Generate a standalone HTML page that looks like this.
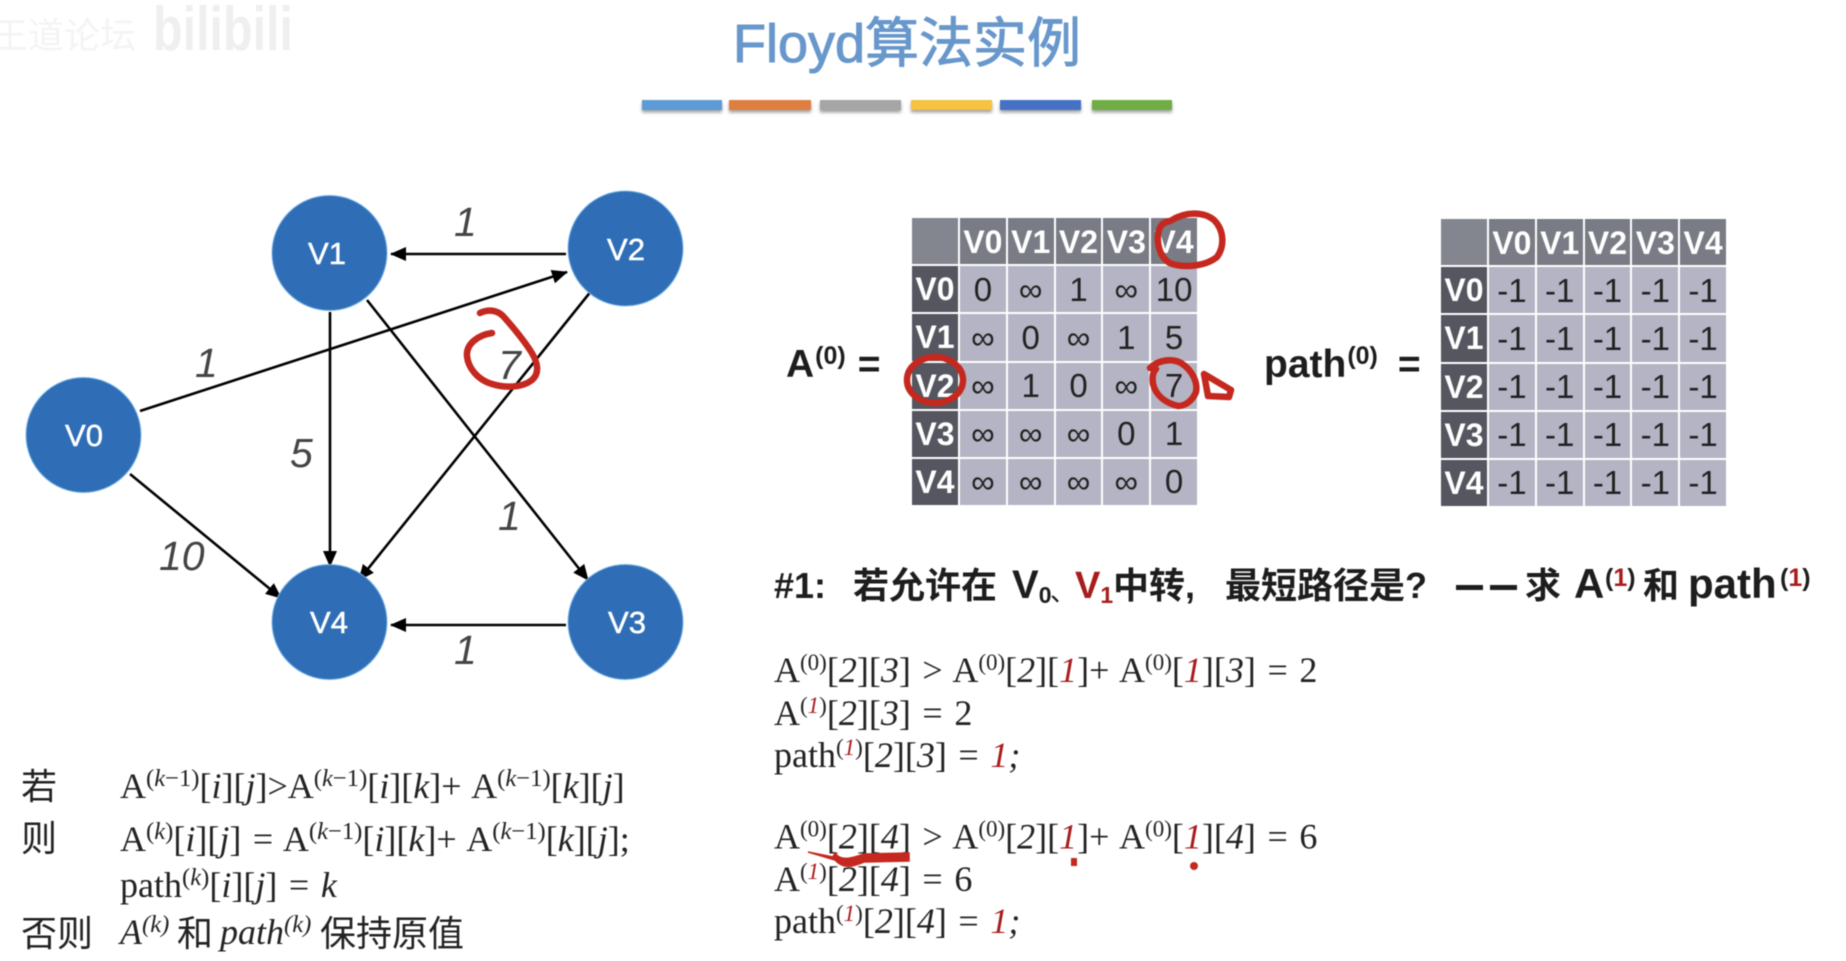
<!DOCTYPE html>
<html lang="zh">
<head>
<meta charset="utf-8">
<title>Floyd算法实例</title>
<style>
html,body{margin:0;padding:0;background:#fff;}
body{width:1846px;height:961px;position:relative;overflow:hidden;font-family:"Liberation Sans","Noto Sans CJK SC",sans-serif;}
.wrap{position:absolute;left:0;top:0;width:1846px;height:961px;filter:blur(.6px);}
.tb{position:absolute;display:grid;grid-template-columns:46px repeat(5,1fr);grid-template-rows:repeat(6,1fr);gap:2px;width:285px;height:287px;background:#fff;}
.tb div{display:flex;align-items:center;justify-content:center;background:#b4b4c4;color:#222;font-size:33px;line-height:1;}
.tb .c{background:#84868f;}
.tb .h{background:#797b85;color:#fff;font-weight:bold;font-size:32px;padding-top:1px;}
.tb .s{background:#55565f;color:#fff;font-weight:bold;font-size:32px;}
svg{position:absolute;left:0;top:0;}
</style>
</head>
<body>
<div class="wrap">
<div class="tb" style="left:912px;top:218px;">
<div class="c"></div><div class="h">V0</div><div class="h">V1</div><div class="h">V2</div><div class="h">V3</div><div class="h">V4</div>
<div class="s">V0</div><div>0</div><div>∞</div><div>1</div><div>∞</div><div>10</div>
<div class="s">V1</div><div>∞</div><div>0</div><div>∞</div><div>1</div><div>5</div>
<div class="s">V2</div><div>∞</div><div>1</div><div>0</div><div>∞</div><div>7</div>
<div class="s">V3</div><div>∞</div><div>∞</div><div>∞</div><div>0</div><div>1</div>
<div class="s">V4</div><div>∞</div><div>∞</div><div>∞</div><div>∞</div><div>0</div>
</div>
<div class="tb" style="left:1441px;top:219px;">
<div class="c"></div><div class="h">V0</div><div class="h">V1</div><div class="h">V2</div><div class="h">V3</div><div class="h">V4</div>
<div class="s">V0</div><div>-1</div><div>-1</div><div>-1</div><div>-1</div><div>-1</div>
<div class="s">V1</div><div>-1</div><div>-1</div><div>-1</div><div>-1</div><div>-1</div>
<div class="s">V2</div><div>-1</div><div>-1</div><div>-1</div><div>-1</div><div>-1</div>
<div class="s">V3</div><div>-1</div><div>-1</div><div>-1</div><div>-1</div><div>-1</div>
<div class="s">V4</div><div>-1</div><div>-1</div><div>-1</div><div>-1</div><div>-1</div>
</div>
<svg width="1846" height="961" viewBox="0 0 1846 961" xmlns="http://www.w3.org/2000/svg" xml:space="preserve">
<defs>
<marker id="ah" markerUnits="userSpaceOnUse" markerWidth="16" markerHeight="14" refX="15" refY="7" orient="auto"><path d="M0 0L16 7L0 14z" fill="#000"/></marker>
<filter id="sh" x="-5%" y="-50%" width="110%" height="250%"><feDropShadow dx="0" dy="2.5" stdDeviation="1.5" flood-color="#777" flood-opacity=".7"/></filter>
<style>
.ss{font-family:"Liberation Sans","Noto Sans CJK SC",sans-serif;}
.tm{font-family:"Liberation Serif","Noto Sans CJK SC",serif;font-size:36px;fill:#222;word-spacing:2.6px;}
.sp{font-size:23px;}
.rl .sp{font-size:24.6px;}
.i{font-style:italic;}
.r{fill:#a81c1c;}
.el{font-family:"Liberation Sans",sans-serif;font-style:italic;font-size:41px;fill:#444;}
.nd{fill:#2f6eb6;stroke:#7ab6e6;stroke-width:1;}
.nt{font-family:"Liberation Sans",sans-serif;font-size:31px;fill:#fff;text-anchor:middle;stroke:#fff;stroke-width:.5;}
.ed{stroke:#000;stroke-width:2.6;fill:none;marker-end:url(#ah);}
.bd{font-family:"Liberation Sans","Noto Sans CJK SC",sans-serif;font-weight:bold;font-size:39px;fill:#1d1d1d;}
.hd{font-family:"Liberation Sans","Noto Sans CJK SC",sans-serif;font-weight:bold;font-size:36px;fill:#1d1d1d;}
.red{fill:none;stroke:#c4281f;stroke-width:6.5;stroke-linecap:round;stroke-linejoin:round;}
.cj{font-family:"Noto Sans CJK SC",sans-serif;font-size:36px;fill:#222;}
</style>
</defs>

<!-- watermark -->
<text x="-8" y="48" class="ss" font-size="36" fill="#f4f4f4">王道论坛</text>
<text x="153" y="50" class="ss" font-size="62" font-weight="bold" fill="#efefef" textLength="140" lengthAdjust="spacingAndGlyphs">bilibili</text>

<!-- title -->
<text x="733" y="62" class="ss" font-size="54" fill="#6897cb" stroke="#6897cb" stroke-width="1">Floyd算法实例</text>
<g filter="url(#sh)">
<rect x="642" y="100" width="80" height="10" fill="#5b9bd5"/>
<rect x="729" y="100" width="82" height="10" fill="#dd7f3f"/>
<rect x="820" y="100" width="81" height="10" fill="#a5a5a5"/>
<rect x="911" y="100" width="81" height="10" fill="#f5c242"/>
<rect x="1000" y="100" width="81" height="10" fill="#4472c4"/>
<rect x="1092" y="100" width="80" height="10" fill="#70ad47"/>
</g>

<!-- edges -->
<line class="ed" x1="566" y1="254" x2="391" y2="254"/>
<line class="ed" x1="140" y1="411" x2="567" y2="272"/>
<line class="ed" x1="367" y1="300" x2="588" y2="580"/>
<line class="ed" x1="592" y1="290" x2="359" y2="580"/>
<line class="ed" x1="330" y1="312" x2="330" y2="566"/>
<line class="ed" x1="130" y1="474" x2="281" y2="598"/>
<line class="ed" x1="566" y1="625" x2="391" y2="625"/>

<!-- nodes -->
<circle class="nd" cx="329.5" cy="253" r="57.5"/>
<circle class="nd" cx="625.5" cy="248.5" r="57.5"/>
<circle class="nd" cx="83.5" cy="435" r="57.5"/>
<circle class="nd" cx="329.5" cy="622" r="57.5"/>
<circle class="nd" cx="625.5" cy="622" r="57.5"/>
<text class="nt" x="327" y="264">V1</text>
<text class="nt" x="626" y="260">V2</text>
<text class="nt" x="84" y="446">V0</text>
<text class="nt" x="329" y="633">V4</text>
<text class="nt" x="627" y="633">V3</text>

<!-- edge labels -->
<text class="el" x="454" y="236">1</text>
<text class="el" x="195" y="377">1</text>
<text class="el" x="498" y="379">7</text>
<text class="el" x="290" y="467">5</text>
<text class="el" x="498" y="530">1</text>
<text class="el" x="159" y="570">10</text>
<text class="el" x="454" y="664">1</text>

<!-- A(0) path(0) labels -->
<text class="bd" x="786" y="377">A<tspan font-size="25" dy="-13" dx="1">(0)</tspan><tspan dy="13" dx="12">=</tspan></text>
<text class="bd" x="1264" y="377">path<tspan font-size="25" dy="-13" dx="1">(0)</tspan><tspan dy="13" dx="20">=</tspan></text>

<!-- heading -->
<text class="hd" x="774" y="598">#1:</text>
<text class="hd" x="853" y="598">若允许在</text>
<text class="hd" x="1012" y="598" style="font-size:40px">V<tspan style="font-size:23px" dy="5">0</tspan></text>
<text class="hd" x="1050" y="601" style="font-size:26px;font-weight:normal">、</text>
<text class="hd" x="1075" y="598" style="fill:#a81c1c;font-size:38px">V<tspan style="font-size:23px" dy="5">1</tspan></text>
<text class="hd" x="1113" y="598">中转,</text>
<text class="hd" x="1225" y="598">最短路径是?</text>
<rect x="1456" y="585" width="27" height="5" fill="#1d1d1d"/>
<rect x="1490" y="585" width="27" height="5" fill="#1d1d1d"/>
<text class="hd" x="1525" y="598">求</text>
<text class="hd" x="1574" y="598" style="font-size:42px">A</text>
<text class="hd" x="1605" y="586" style="font-size:25px">(<tspan style="fill:#a81c1c">1</tspan>)</text>
<text class="hd" x="1643" y="598">和</text>
<text class="hd" x="1688" y="598" style="font-size:42px">path</text>
<text class="hd" x="1780" y="586" style="font-size:25px">(<tspan style="fill:#a81c1c">1</tspan>)</text>

<!-- derivation lines -->
<text class="tm" x="774" y="682">A<tspan class="sp" dy="-12">(0)</tspan><tspan dy="12">[</tspan><tspan class="i">2</tspan>][<tspan class="i">3</tspan>] &gt; A<tspan class="sp" dy="-12">(0)</tspan><tspan dy="12">[</tspan><tspan class="i">2</tspan>][<tspan class="i r">1</tspan>]+ A<tspan class="sp" dy="-12">(0)</tspan><tspan dy="12">[</tspan><tspan class="i r">1</tspan>][<tspan class="i">3</tspan>] = 2</text>
<text class="tm" x="774" y="725">A<tspan class="sp" dy="-12">(</tspan><tspan class="sp i r">1</tspan><tspan class="sp">)</tspan><tspan dy="12">[</tspan><tspan class="i">2</tspan>][<tspan class="i">3</tspan>] = 2</text>
<text class="tm" x="774" y="767">path<tspan class="sp" dy="-12">(</tspan><tspan class="sp i r">1</tspan><tspan class="sp">)</tspan><tspan dy="12">[</tspan><tspan class="i">2</tspan>][<tspan class="i">3</tspan>] = <tspan class="i r">1</tspan><tspan class="i">;</tspan></text>
<text class="tm" x="774" y="848.5">A<tspan class="sp" dy="-12">(0)</tspan><tspan dy="12">[</tspan><tspan class="i">2</tspan>][<tspan class="i">4</tspan>] &gt; A<tspan class="sp" dy="-12">(0)</tspan><tspan dy="12">[</tspan><tspan class="i">2</tspan>][<tspan class="i r">1</tspan>]+ A<tspan class="sp" dy="-12">(0)</tspan><tspan dy="12">[</tspan><tspan class="i r">1</tspan>][<tspan class="i">4</tspan>] = 6</text>
<text class="tm" x="774" y="891">A<tspan class="sp" dy="-12">(</tspan><tspan class="sp i r">1</tspan><tspan class="sp">)</tspan><tspan dy="12">[</tspan><tspan class="i">2</tspan>][<tspan class="i">4</tspan>] = 6</text>
<text class="tm" x="774" y="933">path<tspan class="sp" dy="-12">(</tspan><tspan class="sp i r">1</tspan><tspan class="sp">)</tspan><tspan dy="12">[</tspan><tspan class="i">2</tspan>][<tspan class="i">4</tspan>] = <tspan class="i r">1</tspan><tspan class="i">;</tspan></text>

<!-- rules -->
<text class="cj" x="21" y="799">若</text>
<text class="cj" x="21" y="851">则</text>
<text class="cj" x="21" y="946">否则</text>
<text class="tm rl" x="120" y="798">A<tspan class="sp" dy="-12">(</tspan><tspan class="sp i">k</tspan><tspan class="sp">−1)</tspan><tspan dy="12">[</tspan><tspan class="i">i</tspan>][<tspan class="i">j</tspan>]&gt;A<tspan class="sp" dy="-12">(</tspan><tspan class="sp i">k</tspan><tspan class="sp">−1)</tspan><tspan dy="12">[</tspan><tspan class="i">i</tspan>][<tspan class="i">k</tspan>]+ A<tspan class="sp" dy="-12">(</tspan><tspan class="sp i">k</tspan><tspan class="sp">−1)</tspan><tspan dy="12">[</tspan><tspan class="i">k</tspan>][<tspan class="i">j</tspan>]</text>
<text class="tm rl" x="120" y="851">A<tspan class="sp" dy="-12">(</tspan><tspan class="sp i">k</tspan><tspan class="sp">)</tspan><tspan dy="12">[</tspan><tspan class="i">i</tspan>][<tspan class="i">j</tspan>] = A<tspan class="sp" dy="-12">(</tspan><tspan class="sp i">k</tspan><tspan class="sp">−1)</tspan><tspan dy="12">[</tspan><tspan class="i">i</tspan>][<tspan class="i">k</tspan>]+ A<tspan class="sp" dy="-12">(</tspan><tspan class="sp i">k</tspan><tspan class="sp">−1)</tspan><tspan dy="12">[</tspan><tspan class="i">k</tspan>][<tspan class="i">j</tspan>];</text>
<text class="tm rl" x="120" y="897">path<tspan class="sp" dy="-12">(</tspan><tspan class="sp i">k</tspan><tspan class="sp">)</tspan><tspan dy="12">[</tspan><tspan class="i">i</tspan>][<tspan class="i">j</tspan>] = <tspan class="i">k</tspan></text>
<text class="tm rl" x="120" y="944"><tspan class="i">A</tspan><tspan class="sp i" dy="-12">(k)</tspan></text>
<text class="cj" x="177" y="946">和</text>
<text class="tm rl" x="220" y="944"><tspan class="i">path</tspan><tspan class="sp i" dy="-12">(k)</tspan></text>
<text class="cj" x="320" y="946">保持原值</text>

<!-- red annotations -->
<path class="red" d="M480 313C488 309 497 310 503 316C512 326 522 338 530 350C538 362 540 373 532 380C522 388 505 388 492 384C478 380 468 368 467 356C466 344 478 335 492 333"/>
<path class="red" d="M1172 220C1185 212 1203 211 1214 220C1224 230 1225 246 1217 257C1206 266 1186 268 1172 264C1161 260 1157 246 1158 235C1159 226 1163 222 1170 221"/>
<ellipse class="red" cx="935" cy="380" rx="28" ry="23"/>
<path class="red" d="M1150 368C1158 360 1172 358 1181 363C1192 370 1198 382 1196 392C1192 402 1184 406 1178 406C1166 403 1156 396 1153 384C1152 376 1153 372 1156 369"/>
<path class="red" d="M1204 374L1231 390L1229 397L1208 396z"/>
<path d="M808 852L833 857L835 853C840 860 848 860 864 854L909 853L909 861L864 862C850 868 842 868 835 860z" fill="#c4281f" stroke="#c4281f" stroke-width="1.5"/>
<rect x="1071" y="858" width="6" height="8" fill="#c4281f"/>
<circle cx="1194" cy="866" r="4" fill="#c4281f"/>
</svg>
</div>
</body>
</html>
